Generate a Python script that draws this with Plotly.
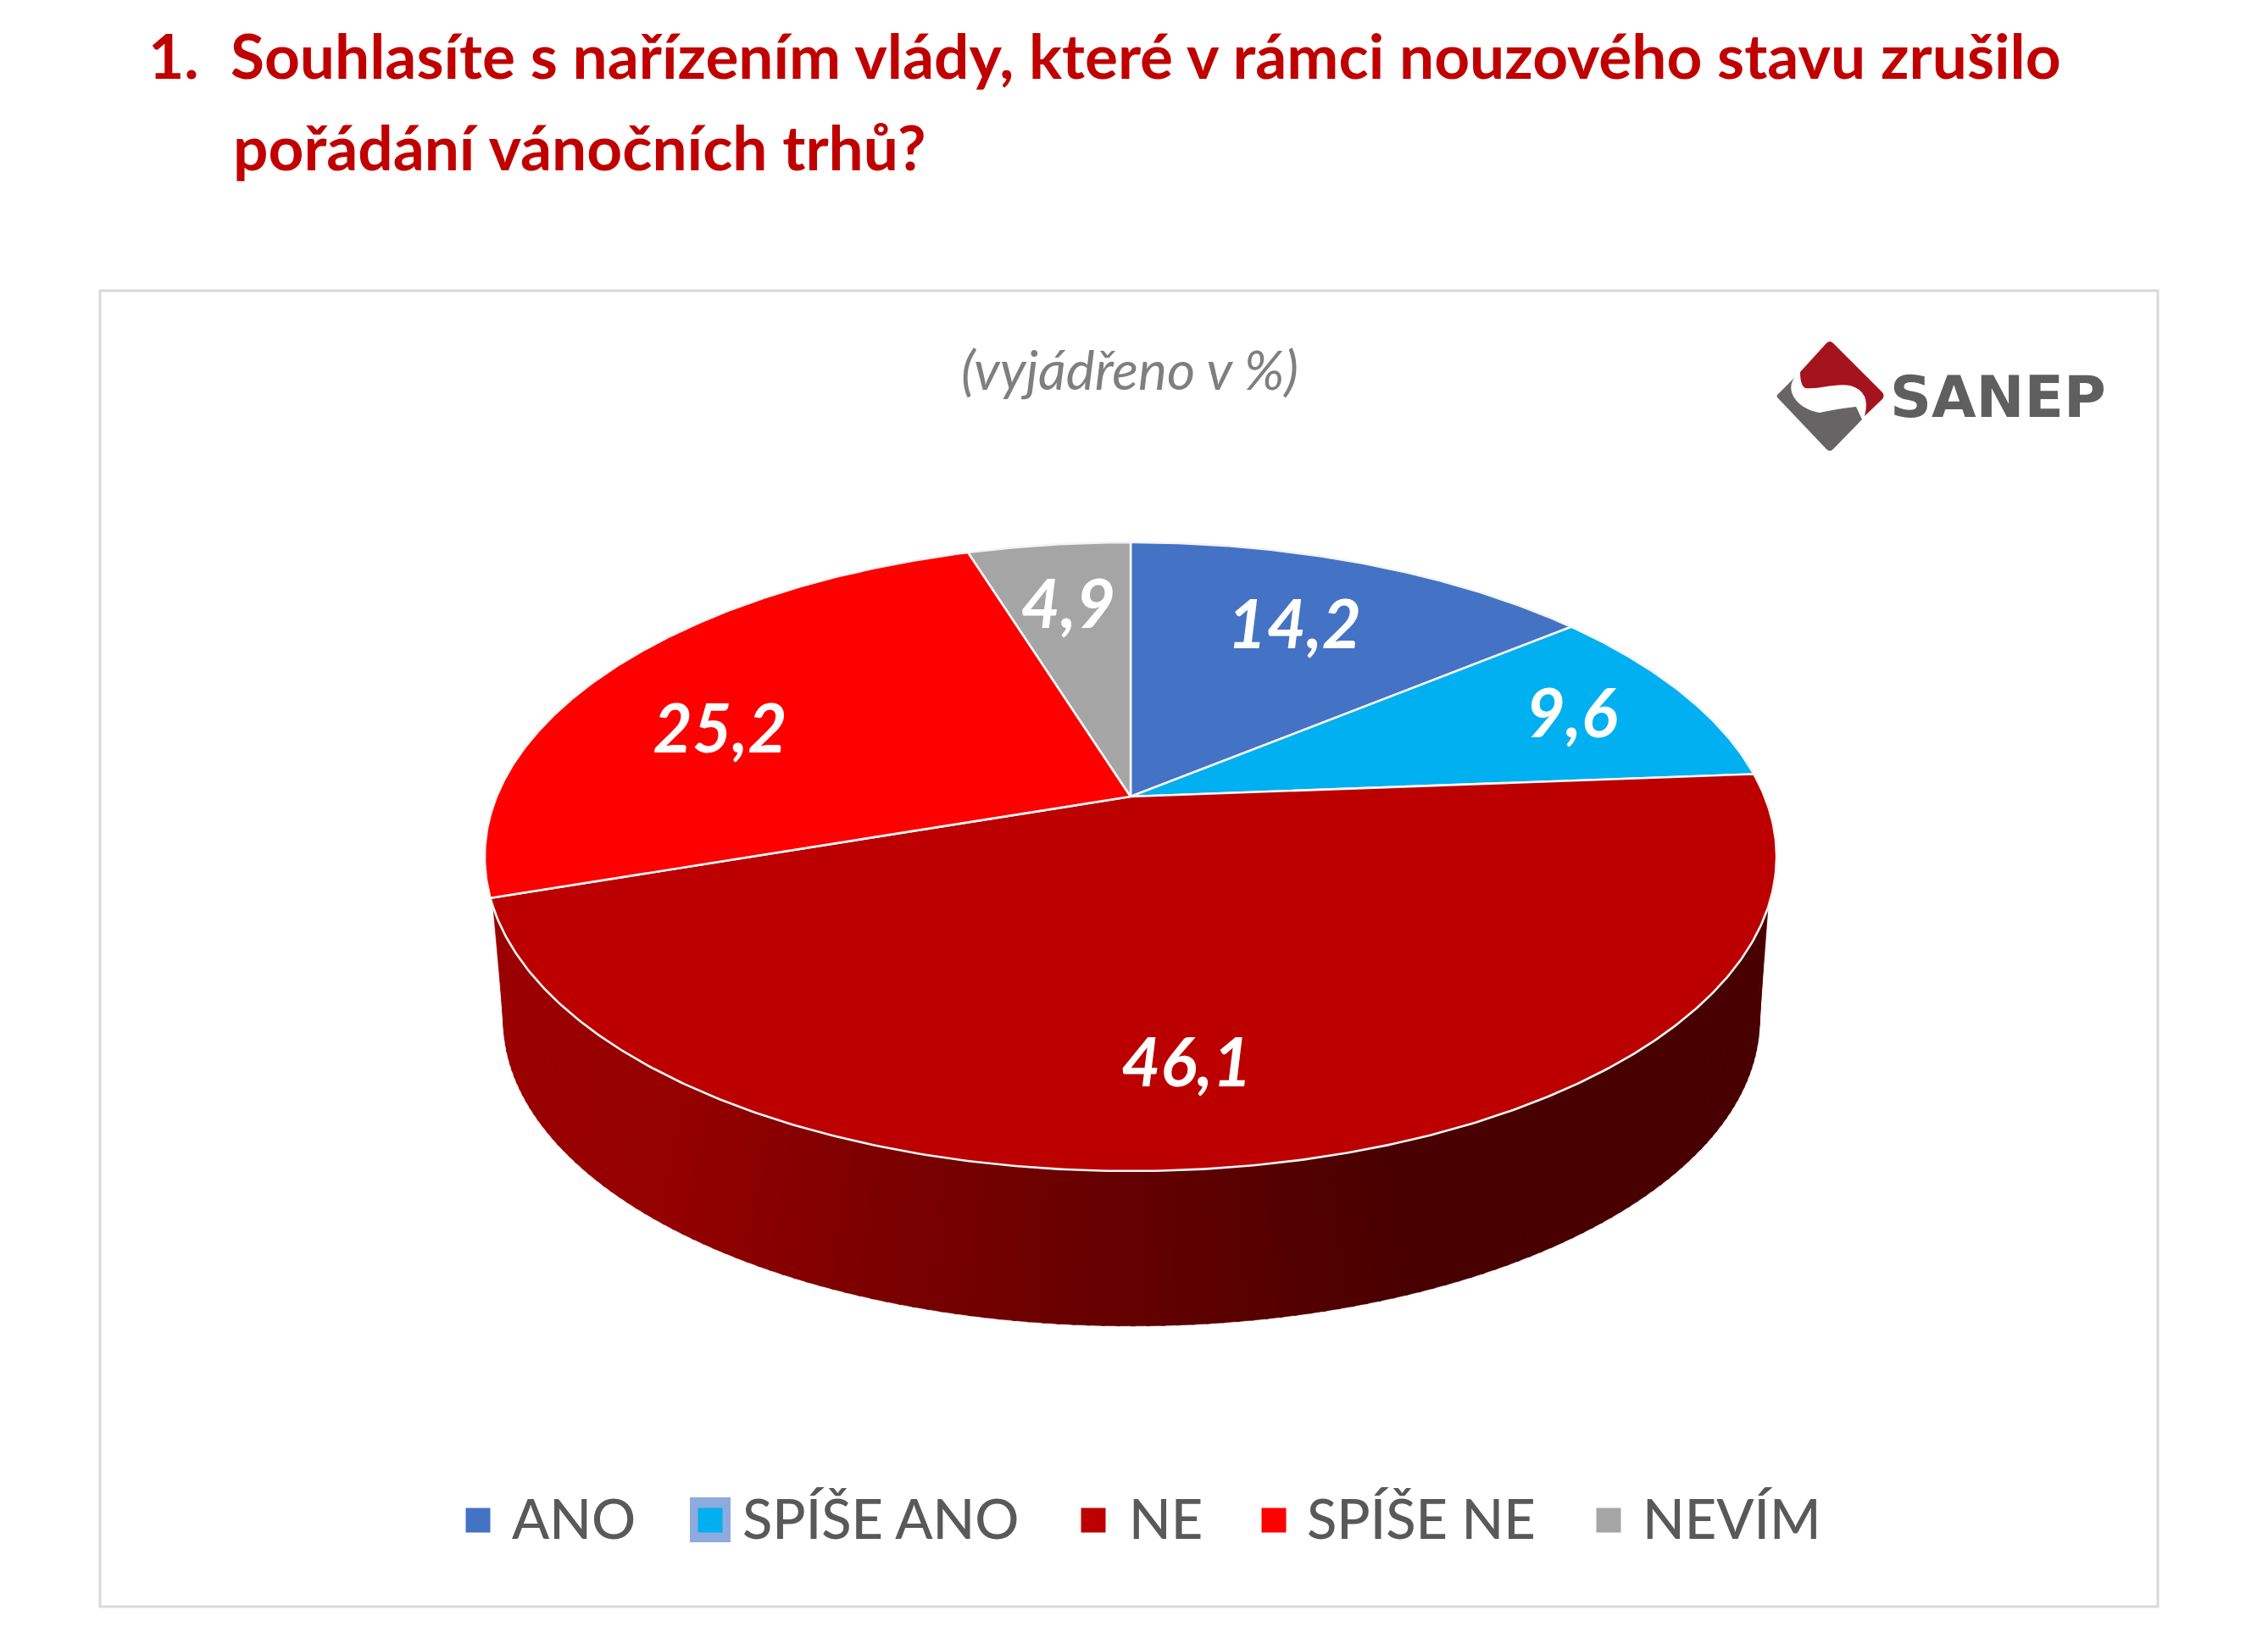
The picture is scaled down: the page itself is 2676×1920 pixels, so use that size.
import numpy as np
import plotly.graph_objects as go

# Survey shares in percent, clockwise from twelve o'clock
categories = ["ANO", "SPÍŠE ANO", "NE", "SPÍŠE NE", "NEVÍM"]
shares = [14.2, 9.6, 46.1, 25.2, 4.9]
value_labels = ["14,2", "9,6", "46,1", "25,2", "4,9"]
slice_colors = ["#4472C4", "#00B0F0", "#BC0000", "#FF0000", "#A5A5A5"]

title_font = "Lato"
W, H = 2676, 1920

# Perspective disc: the top face and the slightly smaller bottom face
CX, CY = 1334.0, 940.0
RADIUS_X, RADIUS_Y, TILT = 748.0, 357.4, 0.1913
BOTTOM_CX, BOTTOM_CY, BOTTOM_SCALE = 1335.0, 1135.0, 0.9724


def disc_point(theta_deg, r=1.0, cx=CX, cy=CY, scale=1.0):
    """Project a polar point on the disc (0 deg = back, clockwise) to the plane."""
    t = np.radians(theta_deg)
    u, v = r * np.sin(t), r * np.cos(t)
    w = 1 + TILT * v
    return cx + scale * RADIUS_X * u / w, cy - scale * RADIUS_Y * v / w


def wall_color(x):
    stops = [580, 800, 1000, 1316, 1660, 2100]
    reds = [156, 149, 128, 102, 72, 72]
    return f"rgb({int(np.interp(x, stops, reds))},0,0)"


fig = go.Figure()

# Side wall, built from narrow quads so the shade can run from left to right
N_WALL = 140
for i in range(N_WALL):
    a, b = i / N_WALL, (i + 1.25) / N_WALL
    b = min(b, 1.0)
    top_a = disc_point(250 - 140 * a)
    top_b = disc_point(250 - 140 * b)
    low_a = disc_point(259 - 158 * a, cx=BOTTOM_CX, cy=BOTTOM_CY, scale=BOTTOM_SCALE)
    low_b = disc_point(259 - 158 * b, cx=BOTTOM_CX, cy=BOTTOM_CY, scale=BOTTOM_SCALE)
    xs = [top_a[0], top_b[0], low_b[0], low_a[0], top_a[0]]
    ys = [top_a[1], top_b[1], low_b[1], low_a[1], top_a[1]]
    col = wall_color(np.mean(xs))
    fig.add_trace(go.Scatter(x=xs, y=ys, mode="lines", fill="toself", fillcolor=col,
                             line=dict(color=col, width=0.6), hoverinfo="skip",
                             showlegend=False))

# Slices of the top face, with their angles taken from the shares
label_x, label_y = [], []
label_radius = [0.70, 0.79, 0.756, 0.716, 0.731]
label_turn = [-1.1, 0.0, 5.6, -7.9, 0.0]
LABEL_DROP = 8
start = 0.0
for name, share, color, lr, lt in zip(categories, shares, slice_colors, label_radius, label_turn):
    sweep = 360.0 * share / sum(shares)
    thetas = np.linspace(start, start + sweep, max(int(sweep * 2), 8))
    rim = disc_point(thetas)
    xs = [CX, *rim[0], CX]
    ys = [CY, *rim[1], CY]
    fig.add_trace(go.Scatter(x=xs, y=ys, mode="lines", fill="toself", fillcolor=color,
                             line=dict(color="#F4F4F4", width=2.6), name=name,
                             hovertemplate=f"{name}: {share}<extra></extra>", showlegend=False))
    lx, ly = disc_point(start + sweep / 2 + lt, r=lr)
    label_x.append(lx)
    label_y.append(ly + LABEL_DROP)
    start += sweep

fig.add_trace(go.Scatter(x=label_x, y=label_y, mode="text", text=value_labels,
                         textposition="middle center", hoverinfo="skip", showlegend=False,
                         textfont=dict(family=title_font, size=80, color="white",
                                       weight="bold", style="italic")))

# Legend row
legend_marker_x = [564, 838, 1290, 1503, 1898]
legend_text_x = [602, 874, 1330, 1540, 1936]
LEGEND_Y = 1794
for name, color, mx in zip(categories, slice_colors, legend_marker_x):
    fig.add_trace(go.Scatter(x=[mx], y=[LEGEND_Y], mode="markers", name=name, showlegend=False,
                             hoverinfo="skip",
                             marker=dict(symbol="square", size=29, color=color, line=dict(width=0))))

annotations = []


def add_text(x, y, text, size, color, anchor="left", weight="normal", style="normal", family=title_font):
    annotations.append(dict(x=x, y=y, xref="x", yref="y", text=text, showarrow=False,
                            xanchor=anchor, yanchor="middle",
                            font=dict(family=family, size=size, color=color, weight=weight, style=style)))


for name, tx in zip(categories, legend_text_x):
    add_text(tx, 1791, name, 65, "#595959", weight=500)

# Question heading
add_text(173, 65, "1.", 73, "#C00000", weight="bold")
add_text(270, 65, "Souhlasíte s nařízením vlády, které v rámci nouzového stavu zrušilo", 73,
         "#C00000", weight="bold")
add_text(273, 173, "pořádání vánočních trhů?", 73, "#C00000", weight="bold")

# Note under the panel's top edge and the wordmark
add_text(1333, 435, "(vyjádřeno v %)", 64, "#7F7F7F", anchor="center", style="italic")
add_text(2228, 468, "SANEP", 68, "#5F5F5F", weight="bold", family="DejaVu Sans")

shapes = [
    dict(type="rect", x0=118, y0=343, x1=2546, y1=1896, xref="x", yref="y", layer="below",
         line=dict(color="#D9D9D9", width=3), fillcolor="white"),
    dict(type="rect", x0=814, y0=1767, x1=862, y1=1820, xref="x", yref="y", layer="below",
         line=dict(width=0), fillcolor="#8FAADC"),
    dict(type="path", xref="x", yref="y", fillcolor="#A5141E", line=dict(width=0),
         path="M 2124 439 L 2155 405 Q 2159 401 2163 405 L 2221 463 Q 2224 467 2221 471 "
              "L 2200 491 Q 2208 462 2183 455 C 2165 452 2145 460 2130 458 Q 2124 455 2124 439 Z"),
    dict(type="path", xref="x", yref="y", fillcolor="#666464", line=dict(width=0),
         path="M 2118 445 L 2098 465 Q 2095 467 2098 470 L 2155 530 Q 2159 534 2163 530 "
              "L 2197 495 L 2190 480 Q 2170 482 2147 487 C 2120 483 2105 460 2118 445 Z"),
]

fig.update_layout(
    width=W, height=H, margin=dict(l=0, r=0, t=0, b=0),
    paper_bgcolor="white", plot_bgcolor="white", showlegend=False,
    xaxis=dict(range=[0, W], visible=False, fixedrange=True),
    yaxis=dict(range=[H, 0], visible=False, fixedrange=True),
    shapes=shapes, annotations=annotations,
)

fig.write_html("out.html")
